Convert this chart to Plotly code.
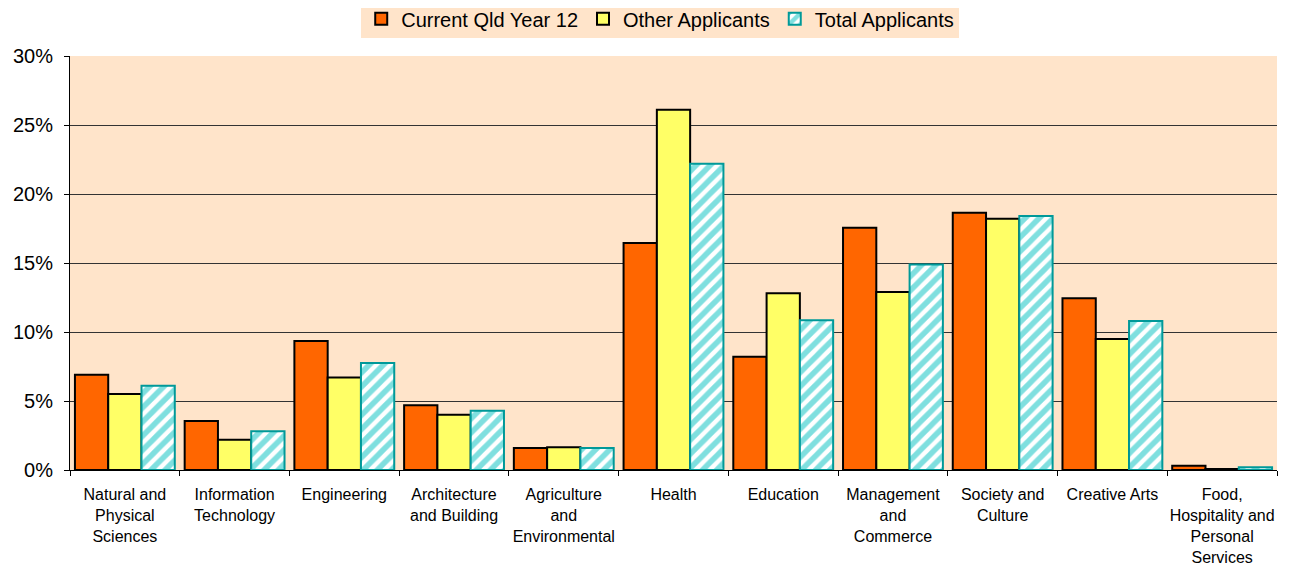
import plotly.graph_objects as go

categories = ["Natural and<br>Physical<br>Sciences", "Information<br>Technology", "Engineering",
              "Architecture<br>and Building", "Agriculture<br>and<br>Environmental", "Health",
              "Education", "Management<br>and<br>Commerce", "Society and<br>Culture", "Creative Arts",
              "Food,<br>Hospitality and<br>Personal<br>Services"]
current_qld = [6.9, 3.55, 9.35, 4.7, 1.6, 16.45, 8.2, 17.55, 18.65, 12.45, 0.3]
other_app = [5.5, 2.2, 6.7, 4.0, 1.65, 26.1, 12.8, 12.9, 18.2, 9.5, 0.07]
total_app = [6.1, 2.8, 7.75, 4.3, 1.6, 22.2, 10.85, 14.9, 18.4, 10.8, 0.2]

fig = go.Figure()
fig.add_trace(go.Bar(name="Current Qld Year 12", x=categories, y=[v/100 for v in current_qld],
                     marker=dict(color="#FF6600", line=dict(color="#000000", width=2))))
fig.add_trace(go.Bar(name="Other Applicants", x=categories, y=[v/100 for v in other_app],
                     marker=dict(color="#FFFF66", line=dict(color="#000000", width=2))))
fig.add_trace(go.Bar(name="Total Applicants", x=categories, y=[v/100 for v in total_app],
                     marker=dict(color="#FFFFFF", line=dict(color="#009999", width=2),
                                 pattern=dict(shape="/", fgcolor="#00C0C0", bgcolor="#FFFFFF",
                                              size=10, solidity=0.55))))

fig.update_layout(
    width=1283, height=559,
    margin=dict(l=62, r=14, t=48, b=97, autoexpand=False),
    paper_bgcolor="#FFFFFF", plot_bgcolor="#FFE4CA",
    font=dict(family="Arial, Liberation Sans, sans-serif", color="#000000"),
    barmode="group", bargap=0.09, bargroupgap=0,
    legend=dict(orientation="h", x=0.489, xanchor="center", y=1.09, yanchor="middle",
                bgcolor="#FFE4CA", font=dict(size=20), itemwidth=30,
                tracegroupgap=0),
    xaxis=dict(tickson="boundaries", ticks="outside", ticklen=5, tickcolor="#000000",
               showline=True, linecolor="#000000", linewidth=1, tickfont=dict(size=16),
               tickangle=0, showgrid=False, automargin=False, ticklabelstandoff=10),
    yaxis=dict(range=[0, 0.30], dtick=0.05, tickformat=".0%", ticks="outside", ticklen=5,
               tickcolor="#000000", showline=True, linecolor="#000000", linewidth=1,
               gridcolor="#333333", gridwidth=1, tickfont=dict(size=20), zeroline=False,
               automargin=False, ticklabelstandoff=7),
)
fig.write_html("out.html")
